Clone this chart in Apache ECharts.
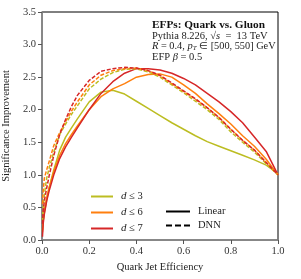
<!DOCTYPE html>
<html><head><meta charset="utf-8">
<script src="https://cdn.jsdelivr.net/npm/echarts@6/dist/echarts.min.js"></script>
<style>html,body{margin:0;padding:0;background:#fff}#c{width:301px;height:279px}</style>
</head><body><div id="c"></div>
<script>
var effX = [0.002, 0.005, 0.01, 0.02, 0.03, 0.05, 0.075, 0.1, 0.125, 0.15, 0.2, 0.25, 0.3, 0.35, 0.4, 0.45, 0.5, 0.55, 0.6, 0.65, 0.7, 0.75, 0.8, 0.85, 0.9, 0.95, 1.0];
var d3Linear = [0.15, 0.30, 0.42, 0.62, 0.80, 1.08, 1.38, 1.58, 1.72, 1.86, 2.12, 2.27, 2.30, 2.24, 2.13, 2.02, 1.91, 1.80, 1.70, 1.60, 1.51, 1.44, 1.37, 1.30, 1.23, 1.15, 1.02];
var d6Linear = [0.12, 0.30, 0.45, 0.65, 0.80, 1.05, 1.30, 1.48, 1.62, 1.75, 2.00, 2.20, 2.32, 2.40, 2.50, 2.54, 2.55, 2.50, 2.38, 2.25, 2.09, 1.94, 1.78, 1.60, 1.44, 1.24, 1.00];
var d7Linear = [0.05, 0.25, 0.40, 0.60, 0.75, 1.00, 1.25, 1.43, 1.58, 1.72, 2.00, 2.25, 2.43, 2.56, 2.63, 2.63, 2.61, 2.56, 2.48, 2.38, 2.25, 2.12, 1.97, 1.80, 1.58, 1.36, 1.00];
var d3DNN = [0.30, 0.50, 0.70, 0.95, 1.10, 1.35, 1.62, 1.78, 1.93, 2.06, 2.32, 2.47, 2.57, 2.62, 2.63, 2.58, 2.50, 2.38, 2.26, 2.13, 2.00, 1.85, 1.66, 1.50, 1.35, 1.17, 1.00];
var d6DNN = [0.55, 0.75, 0.95, 1.08, 1.20, 1.45, 1.65, 1.82, 1.98, 2.12, 2.38, 2.53, 2.60, 2.63, 2.64, 2.60, 2.52, 2.40, 2.28, 2.16, 2.03, 1.88, 1.70, 1.53, 1.38, 1.19, 1.00];
var d7DNN = [0.25, 0.45, 0.60, 0.80, 0.98, 1.30, 1.62, 1.85, 2.05, 2.22, 2.45, 2.59, 2.63, 2.65, 2.64, 2.60, 2.53, 2.41, 2.29, 2.17, 2.03, 1.88, 1.70, 1.53, 1.38, 1.19, 1.00];
var xTicks = [0.0, 0.2, 0.4, 0.6, 0.8, 1.0];
var yTicks = [0.0, 0.5, 1.0, 1.5, 2.0, 2.5, 3.0, 3.5];
var labelsD = ['d ≤ 3', 'd ≤ 6', 'd ≤ 7'];
var labelsModel = ['Linear', 'DNN'];

var C3 = '#bcbd22', C6 = '#ff7f0e', C7 = '#d62728';
var FONT = 'Liberation Serif';
function pairs(ys) { return effX.map(function (x, i) { return [x, ys[i]]; }); }
function ser(name, ys, color, dashed) {
  return {
    type: 'line', name: name, data: pairs(ys), showSymbol: false, symbol: 'none',
    color: color,
    lineStyle: { color: color, width: 1.5, type: dashed ? [4, 1.8] : 'solid' },
    z: dashed ? 3 : 2
  };
}
var chart = echarts.init(document.getElementById('c'), null, { renderer: 'canvas' });
var axisText = { fontFamily: FONT, fontSize: 10.5, color: '#333' };
var DASH_ICON = 'path://M0,0h5v2h-5z M7.5,0h5v2h-5z M15,0h5v2h-5z';
chart.setOption({
  animation: false,
  grid: { left: 42, right: 23, top: 12, bottom: 39, containLabel: false, outerBoundsMode: 'none',
          show: true, borderColor: '#000', borderWidth: 1 },
  xAxis: {
    type: 'value', min: 0, max: 1, interval: 0.2,
    axisLine: { show: true, lineStyle: { color: '#8a8a8a', width: 1.6 } },
    axisTick: { show: true, length: 4, lineStyle: { color: '#555' } },
    splitLine: { show: false },
    axisLabel: Object.assign({ formatter: function (v) { return v.toFixed(1); }, margin: 6 }, axisText),
    name: 'Quark Jet Efficiency', nameLocation: 'middle', nameGap: 22,
    nameTextStyle: { fontFamily: FONT, fontSize: 10.5, color: '#222' }
  },
  yAxis: {
    type: 'value', min: 0, max: 3.5, interval: 0.5,
    axisLine: { show: true, lineStyle: { color: '#8a8a8a', width: 1.6 } },
    axisTick: { show: true, length: 4, lineStyle: { color: '#555' } },
    splitLine: { show: false },
    axisLabel: Object.assign({ formatter: function (v) { return v.toFixed(1); }, margin: 6 }, axisText),
    name: 'Significance Improvement', nameLocation: 'middle', nameGap: 29,
    nameTextStyle: { fontFamily: FONT, fontSize: 10.5, color: '#222' }
  },
  legend: [
    {
      data: labelsD.map(function (n) { return { name: n, icon: 'rect' }; }),
      orient: 'vertical', left: 91, top: 191, padding: 0, itemWidth: 22, itemHeight: 2, itemGap: 5,
      selectedMode: false, symbolKeepAspect: false,
      formatter: function (n) { return '{i|d}{t|' + n.slice(1) + '}'; },
      textStyle: { fontFamily: FONT, fontSize: 10.5, color: '#222', padding: [0, 0, 0, 3],
        rich: { i: { fontFamily: FONT, fontStyle: 'italic', fontSize: 11, color: '#222' },
                t: { fontFamily: FONT, fontSize: 10.5, color: '#222' } } }
    },
    {
      data: [{ name: labelsModel[0], icon: 'rect' }, { name: labelsModel[1], icon: DASH_ICON }],
      orient: 'vertical', left: 166, top: 206, padding: 0, itemWidth: 24, itemHeight: 2, itemGap: 3,
      selectedMode: false, symbolKeepAspect: false,
      textStyle: { fontFamily: FONT, fontSize: 10.5, color: '#222', padding: [0, 0, 0, 3] }
    }
  ],
  graphic: [{
    type: 'text', left: 152, top: 20,
    style: {
      text: '{b|EFPs: Quark vs. Gluon}\n{n|Pythia 8.226, }{n|√}{it|s}{n|  =  13 TeV}\n{it|R}{m| = 0.4, }{it|p}{sub|T}{m| ∈ [500, 550] GeV}\n{n|EFP }{it|β}{n| = 0.5}',
      fontFamily: FONT, fontSize: 10.5, fill: '#222', lineHeight: 10.6,
      rich: {
        b: { fontFamily: FONT, fontWeight: 'bold', fontSize: 11.3, fill: '#111', lineHeight: 10.6 },
        n: { fontFamily: FONT, fontSize: 10.5, fill: '#222', lineHeight: 10.6 },
        m: { fontFamily: FONT, fontSize: 10.3, fill: '#222', lineHeight: 10.6 },
        it: { fontFamily: FONT, fontStyle: 'italic', fontSize: 10.5, fill: '#222', lineHeight: 10.6 },
        sub: { fontFamily: FONT, fontStyle: 'italic', fontSize: 7, fill: '#222', verticalAlign: 'bottom', lineHeight: 10.6, padding: [3, 0, 0, 0] }
      }
    }
  }],
  series: [
    ser('d ≤ 3', d3Linear, C3, false),
    ser('d ≤ 6', d6Linear, C6, false),
    ser('d ≤ 7', d7Linear, C7, false),
    ser('d ≤ 3', d3DNN, C3, true),
    ser('d ≤ 6', d6DNN, C6, true),
    ser('d ≤ 7', d7DNN, C7, true),
    { type: 'line', name: 'Linear', data: [], symbol: 'none', color: '#000', lineStyle: { color: '#000', width: 2 } },
    { type: 'line', name: 'DNN', data: [], symbol: 'none', color: '#000', lineStyle: { color: '#000', width: 2, type: [4, 2] } }
  ]
});
</script></body></html>
